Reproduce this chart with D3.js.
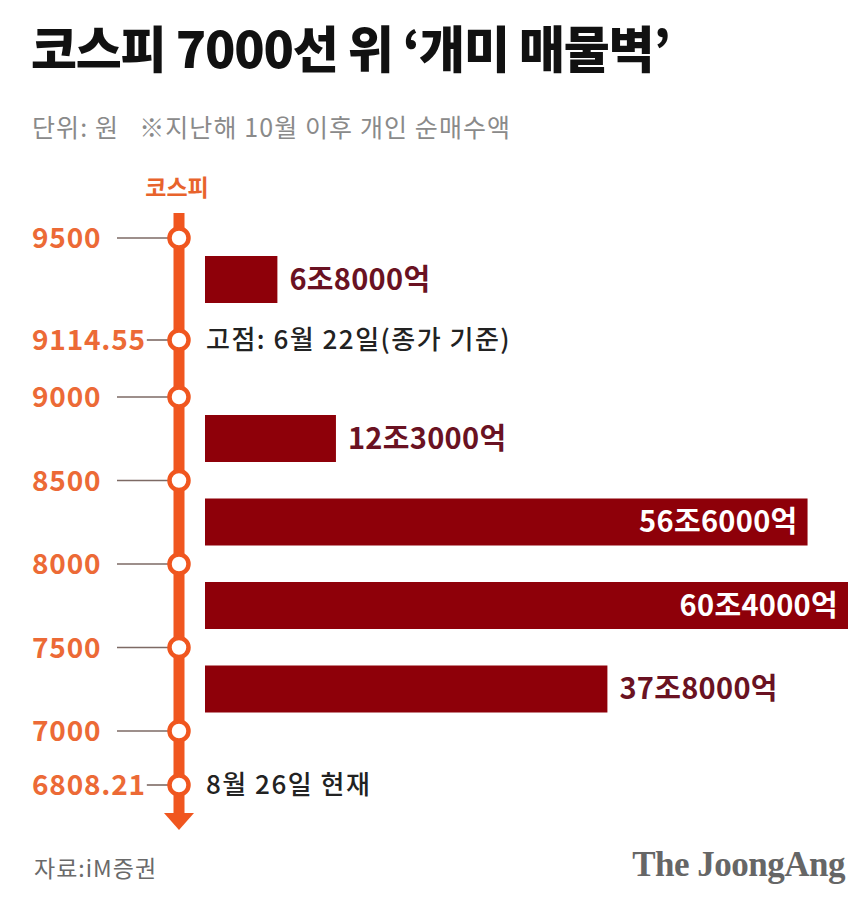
<!DOCTYPE html>
<html>
<head>
<meta charset="utf-8">
<script src="https://cdn.jsdelivr.net/npm/d3@7"></script>
<style>
  body { margin: 0; background: #fff; }
  svg { display: block; font-family: "Noto Sans CJK KR", "Noto Sans", sans-serif; }
</style>
</head>
<body>
<svg id="chart" width="867" height="902"></svg>
<script>
// KOSPI levels marked on the axis
const tickValues = [9500, 9114.55, 9000, 8500, 8000, 7500, 7000, 6808.21];
const tickLabels = ["9500", "9114.55", "9000", "8500", "8000", "7500", "7000", "6808.21"];

// index bands and individual net buying (조원) inside each band
const bandHigh = [9500, 9000, 8500, 8000, 7500];
const bandLow = [9000, 8500, 8000, 7500, 7000];
const netBuy = [6.8, 12.3, 56.6, 60.4, 37.8];
const netBuyLabels = ["6조8000억", "12조3000억", "56조6000억", "60조4000억", "37조8000억"];

// notes beside special levels
const noteValues = [9114.55, 6808.21];
const noteTexts = ["고점: 6월 22일(종가 기준)", "8월 26일 현재"];

const orange = "#f0561f";
const barColor = "#8e0009";

const svg = d3.select("#chart");

// axis is not evenly spaced in the original, so use a piecewise scale
const y = d3.scaleLinear()
    .domain([9500, 9114.55, 9000, 7000, 6808.21])
    .range([238, 340, 397, 731, 785]);

const x = d3.scaleLinear()
    .domain([0, 60.4])
    .range([205, 848]);

const axisX = 179;

// title
svg.append("text")
    .attr("x", 31)
    .attr("y", 68)
    .attr("font-size", 50)
    .attr("font-weight", 900)
    .attr("letter-spacing", -1.2)
    .attr("fill", "#111")
    .text("코스피 7000선 위 ‘개미 매물벽’");

svg.append("text")
    .attr("x", 32)
    .attr("y", 137)
    .attr("font-size", 25)
    .attr("letter-spacing", 1.1)
    .attr("fill", "#8a8a8a")
    .attr("xml:space", "preserve")
    .text("단위: 원   ※지난해 10월 이후 개인 순매수액");

svg.append("text")
    .attr("x", axisX - 2)
    .attr("y", 196)
    .attr("text-anchor", "middle")
    .attr("font-size", 23)
    .attr("font-weight", 700)
    .attr("fill", "#e8632c")
    .text("코스피");

// bars
const bars = svg.append("g").attr("class", "bars");
bars.selectAll("rect")
    .data(netBuy)
    .enter().append("rect")
    .attr("x", x(0))
    .attr("y", function(d, i){ return y(bandHigh[i]) + 18; })
    .attr("width", function(d){ return x(d) - x(0); })
    .attr("height", 47)
    .style("fill", barColor);

bars.selectAll("text")
    .data(netBuy)
    .enter().append("text")
    .attr("x", function(d){
        if(d > 50){
            return x(d) - 10;
        }
        else{
            return x(d) + 12;
        }
    })
    .attr("y", function(d, i){ return y(bandHigh[i]) + 18 + 23.5; })
    .attr("dy", "0.36em")
    .attr("text-anchor", function(d){ return d > 50 ? "end" : "start"; })
    .attr("font-size", 29)
    .attr("font-weight", 700)
    .attr("letter-spacing", 0.3)
    .style("fill", function(d){ return d > 50 ? "#fff" : "#6a1222"; })
    .text(function(d, i){ return netBuyLabels[i]; });

// axis line and arrow
svg.append("line")
    .attr("x1", axisX).attr("x2", axisX)
    .attr("y1", 213).attr("y2", y(6808.21) + 30)
    .style("stroke", orange)
    .style("stroke-width", 11);

svg.append("path")
    .attr("d", "M" + (axisX - 15) + "," + (y(6808.21) + 28)
        + "L" + (axisX + 15) + "," + (y(6808.21) + 28)
        + "L" + axisX + "," + (y(6808.21) + 45) + "Z")
    .style("fill", orange);

// ticks
const tick = svg.append("g").attr("class", "ticks")
    .selectAll("g")
    .data(tickValues)
    .enter().append("g")
    .attr("transform", function(d){ return "translate(0," + y(d) + ")"; });

const tickText = tick.append("text")
    .attr("x", 32)
    .attr("dy", "0.36em")
    .attr("font-size", 28)
    .attr("font-weight", 700)
    .attr("letter-spacing", 0.8)
    .style("fill", "#ec6a36")
    .text(function(d, i){ return tickLabels[i]; });

tick.insert("line", "text")
    .attr("x1", function(d, i){
        let end = 32 + tickText.nodes()[i].getComputedTextLength();
        return Math.max(117, end + 1);
    })
    .attr("x2", axisX - 10)
    .style("stroke", "#7d6a64")
    .style("stroke-width", 1.6);

tick.append("circle")
    .attr("cx", axisX)
    .attr("r", 9.5)
    .style("fill", "#fff")
    .style("stroke", orange)
    .style("stroke-width", 4.5);

// notes
svg.selectAll(".note")
    .data(noteValues)
    .enter().append("text")
    .attr("class", "note")
    .attr("x", 206)
    .attr("y", function(d){ return y(d); })
    .attr("dy", "0.36em")
    .attr("font-size", 26)
    .attr("font-weight", 500)
    .attr("letter-spacing", 1.5)
    .style("fill", "#222")
    .text(function(d, i){ return noteTexts[i]; });

// footer
svg.append("text")
    .attr("x", 34)
    .attr("y", 877)
    .attr("font-size", 23)
    .attr("letter-spacing", 1)
    .style("fill", "#6a6a6a")
    .text("자료:iM증권");

svg.append("text")
    .attr("x", 845)
    .attr("y", 876)
    .attr("text-anchor", "end")
    .attr("font-family", "'Liberation Serif', serif")
    .attr("font-size", 35)
    .attr("font-weight", 700)
    .attr("letter-spacing", -0.5)
    .style("fill", "#666")
    .text("The JoongAng");
</script>
</body>
</html>
